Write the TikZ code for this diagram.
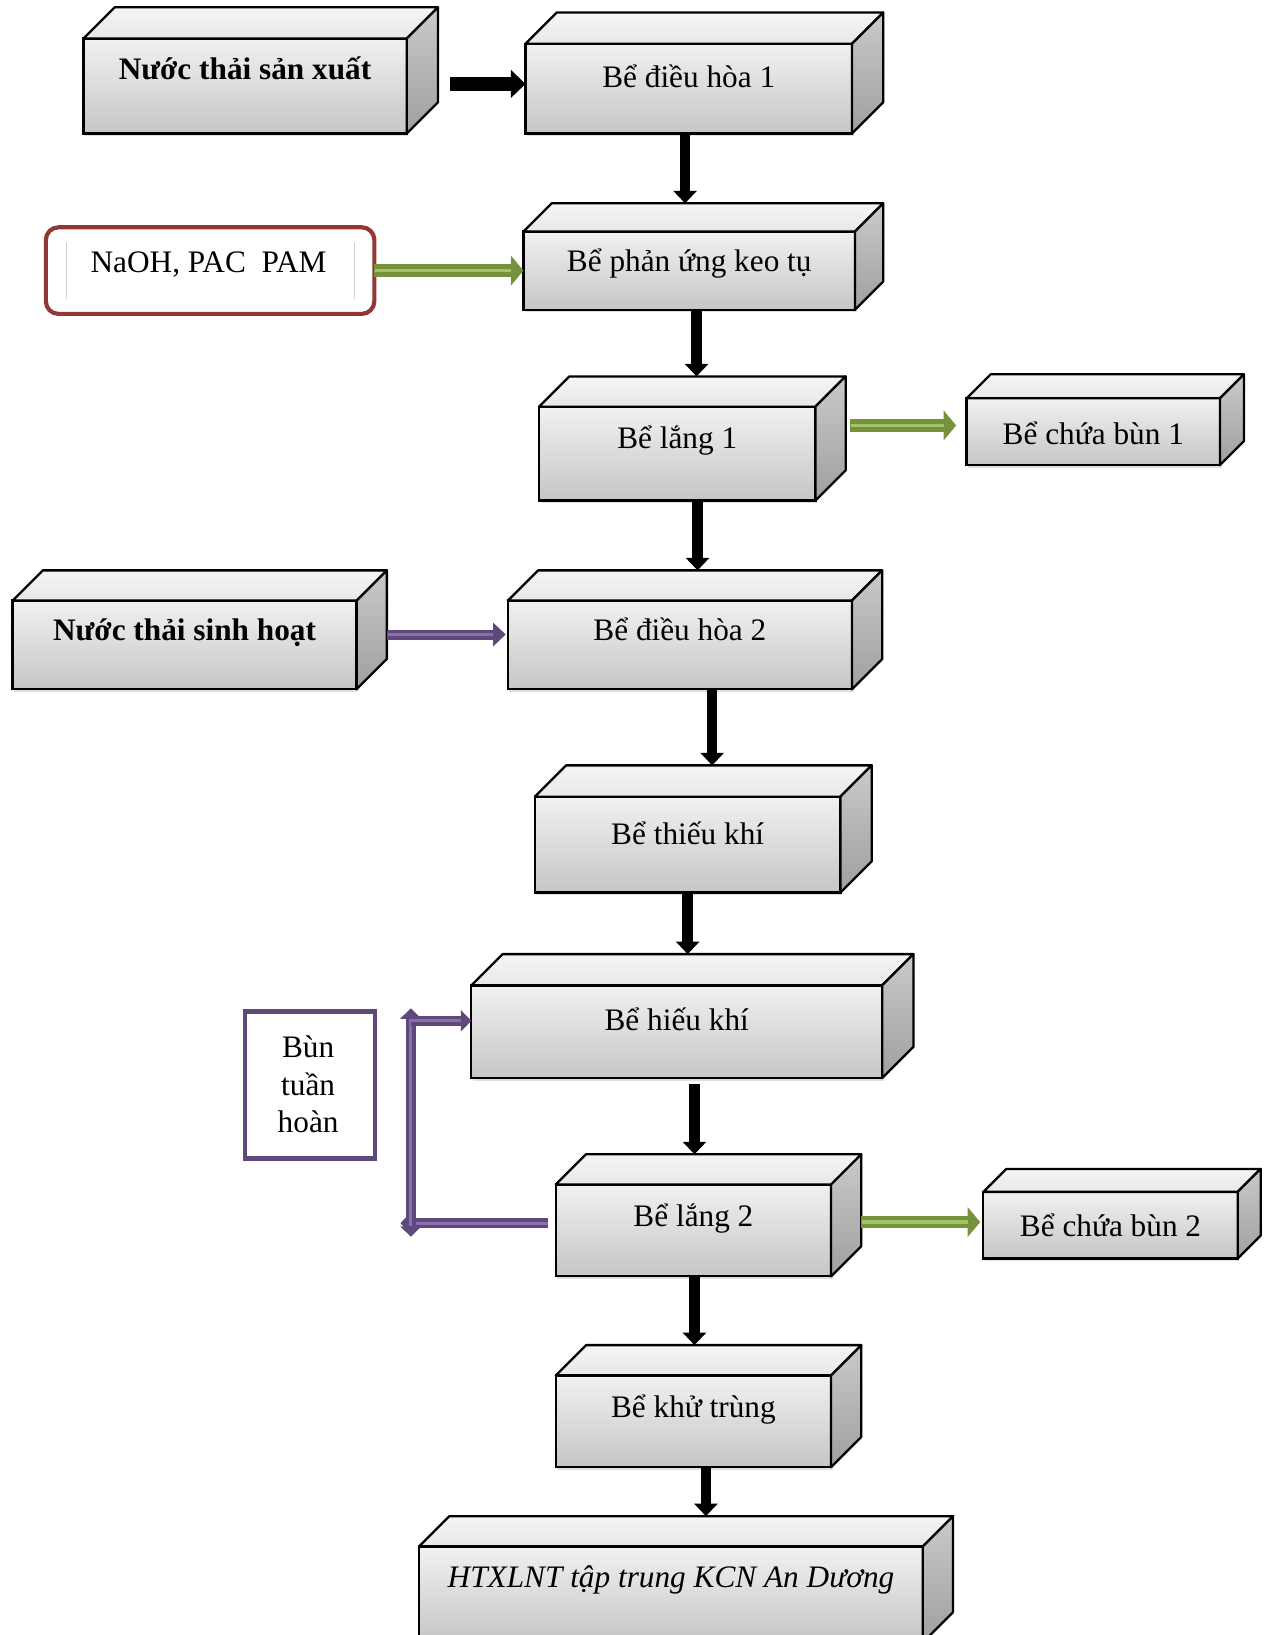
\documentclass[tikz,border=0pt]{standalone}
\usepackage{fontspec}
\setmainfont{Liberation Serif}
\usetikzlibrary{arrows.meta,shadows}

\definecolor{grnD}{HTML}{76923C}
\definecolor{grnL}{HTML}{A4C46A}
\definecolor{purD}{HTML}{5F497A}
\definecolor{purL}{HTML}{8A6FAE}
\definecolor{redB}{HTML}{943634}

\tikzset{
  tankfront/.style={draw=black, line width=1.1pt, outer sep=0pt, inner sep=0pt,
    top color=gray!11, bottom color=gray!45,
    drop shadow={opacity=0.25, shadow xshift=0.8pt, shadow yshift=-1.2pt}},
  tanktop/.style={draw=black, line width=1.1pt, line join=round,
    top color=gray!8, bottom color=gray!18},
  tankside/.style={draw=black, line width=1.1pt, line join=round,
    top color=gray!42, bottom color=gray!75},
  tanktext/.style={inner sep=0pt, font=\fontsize{15}{18}\selectfont},
  blk/.style={draw=black, line width=5pt, -{Triangle[width=11pt,length=6pt]}},
  blkwide/.style={draw=black, line width=7pt, -{Triangle[width=13pt,length=7pt]}},
  grn/.style={draw=grnD, line width=6pt, -{Triangle[width=14pt,length=6pt]},
    postaction={draw=grnL, line width=1.8pt, -, shorten >=6pt, shorten <=0.4pt}},
  pur/.style={draw=purD, line width=4.8pt, -{Triangle[width=11pt,length=6pt]},
    postaction={draw=purL, line width=1.5pt, -, shorten >=6pt, shorten <=0.4pt}},
  purs/.style={draw=purD, line width=5pt, -{Triangle[width=10pt,length=5pt]},
    postaction={draw=purL, line width=1.5pt, -, shorten >=5pt}},
  purboth/.style={draw=purD, line width=5pt, {Triangle[width=10pt,length=5pt]}-{Triangle[width=10pt,length=5pt]},
    postaction={draw=purL, line width=1.5pt, -, shorten >=5pt, shorten <=5pt}},
}

% #1 name, #2,#3 front top-left, #4,#5 front bottom-right, #6 depth, #7 text baseline, #8 text
\newcommand\drawtank[8]{%
  \node[tankfront, anchor=north west,
        minimum width={(#4-#2)*0.5pt}, minimum height={(#5-#3)*0.5pt}] (#1) at (#2,#3) {};
  \filldraw[tanktop] (#1.north west) -- ++(#6,-#6)
     -- ([shift={(#6*0.5pt,#6*0.5pt)}]#1.north east) -- (#1.north east) -- cycle;
  \filldraw[tankside] (#1.north east) -- ([shift={(#6*0.5pt,#6*0.5pt)}]#1.north east)
     -- ([shift={(#6*0.5pt,#6*0.5pt)}]#1.south east) -- (#1.south east) -- cycle;
  \coordinate (#1-top) at ({(#2+#4)/2},{#3-#6});
  \node[tanktext, anchor=base] (#1-label) at ({(#2+#4)/2},#7) {#8};
}

\begin{document}
\begin{tikzpicture}[x=0.5pt,y=-0.5pt]
\useasboundingbox[fill=white] (0,0) rectangle (1217,1568);

% process tanks
\drawtank{b1}{80}{37}{390}{128}{30}{76}{\bfseries Nước thải sản xuất}
\drawtank{b2}{504}{42}{817}{128}{30}{84}{Bể điều hòa 1}
\drawtank{b3}{502}{222}{820}{297}{27}{260}{Bể phản ứng keo tụ}
\drawtank{b4}{517}{390}{782}{480}{29}{430}{Bể lắng 1}
\drawtank{b5}{927}{382}{1170}{446}{23}{426}{Bể chứa bùn 1}
\drawtank{b6}{12}{576}{342}{661}{29}{614}{\bfseries Nước thải sinh hoạt}
\drawtank{b7}{487}{576}{817}{661}{29}{614}{Bể điều hòa 2}
\drawtank{b8}{513}{764}{806}{856}{30}{810}{Bể thiếu khí}
\drawtank{b9}{452}{945}{846}{1034}{30}{988}{Bể hiếu khí}
\drawtank{b10}{533}{1136}{797}{1224}{29}{1176}{Bể lắng 2}
\drawtank{b11}{943}{1143}{1187}{1207}{22}{1186}{Bể chứa bùn 2}
\drawtank{b12}{533}{1319}{797}{1407}{29}{1359}{Bể khử trùng}
\drawtank{b13}{402}{1483}{885}{1575}{29}{1522}{\itshape HTXLNT tập trung KCN An Dương}

% chemical dosing box
\node[draw=redB, line width=2pt, rounded corners=6pt, inner sep=0pt,
      minimum width=157.5pt, minimum height=41.5pt, anchor=north west] (chem) at (42,216) {};
\draw[gray!35, line width=0.5pt] ([xshift=11pt,yshift=-8pt]chem.north west) -- ([xshift=11pt,yshift=8pt]chem.south west);
\draw[gray!35, line width=0.5pt] ([xshift=-10.5pt,yshift=-8pt]chem.north east) -- ([xshift=-10.5pt,yshift=8pt]chem.south east);
\node[tanktext, anchor=base] (chem-label) at (200,261) {NaOH, PAC\ \ PAM};

% return sludge box
\node[draw=purD, line width=2pt, inner sep=0pt, minimum width=62.5pt, minimum height=70.5pt,
      anchor=north west] (ret) at (233,968) {};
\node[tanktext, align=center, anchor=center] (ret-label) at (295.5,1040) {Bùn\\tuần\\hoàn};

% main flow
\draw[blkwide] ([xshift=21pt,yshift=1pt]b1.east) -- ([yshift=1pt]b1.east -| b2.west);
\draw[blk] ([xshift=-1.75pt]b2.south) -- ([xshift=-1.75pt]b2.south |- b3-top);
\draw[blk] ([xshift=3.5pt]b3.south) -- ([xshift=3.5pt]b3.south |- b4-top);
\draw[blk] ([xshift=9.75pt]b4.south) -- ([xshift=9.75pt]b4.south |- b7-top);
\draw[blk] ([xshift=15.5pt]b7.south) -- ([xshift=15.5pt]b7.south |- b8-top);
\draw[blk] (b8.south) -- (b8.south |- b9-top);
\draw[blk] ([xshift=8.5pt,yshift=-3pt]b9.south) -- ([xshift=8.5pt]b9.south |- b10-top);
\draw[blk] ([xshift=0.5pt]b10.south) -- ([xshift=0.5pt]b10.south |- b12-top);
\draw[blk] ([xshift=6pt]b12.south) -- ([xshift=6pt]b12.south |- b13-top);

% chemicals and sludge
\draw[grn] ([xshift=-1pt]chem.east) -- (chem.east -| b3.west);
\draw[grn] ([shift={(16.5pt,3pt)}]b5.west -| b4.east) -- ([shift={(-5pt,3pt)}]b5.west);
\draw[grn] ([shift={(14.5pt,4pt)}]b10.east) -- ([shift={(-1.5pt,4pt)}]b10.east -| b11.west);
\draw[pur] ([shift={(14.5pt,5pt)}]b6.east) -- ([shift={(-1pt,5pt)}]b7.west);

% sludge return loop
\coordinate (loop-top) at (394,979);
\coordinate (loop-bot) at (394,1173);
\draw[purs] ([xshift=-3.5pt]b10.west |- loop-bot) -- ([xshift=-5pt]loop-bot);
\draw[purboth] ([yshift=-6.5pt]loop-bot) -- ([yshift=6pt]loop-top);
\draw[purs] (loop-top) -- (loop-top -| b9.west);
\end{tikzpicture}
\end{document}
